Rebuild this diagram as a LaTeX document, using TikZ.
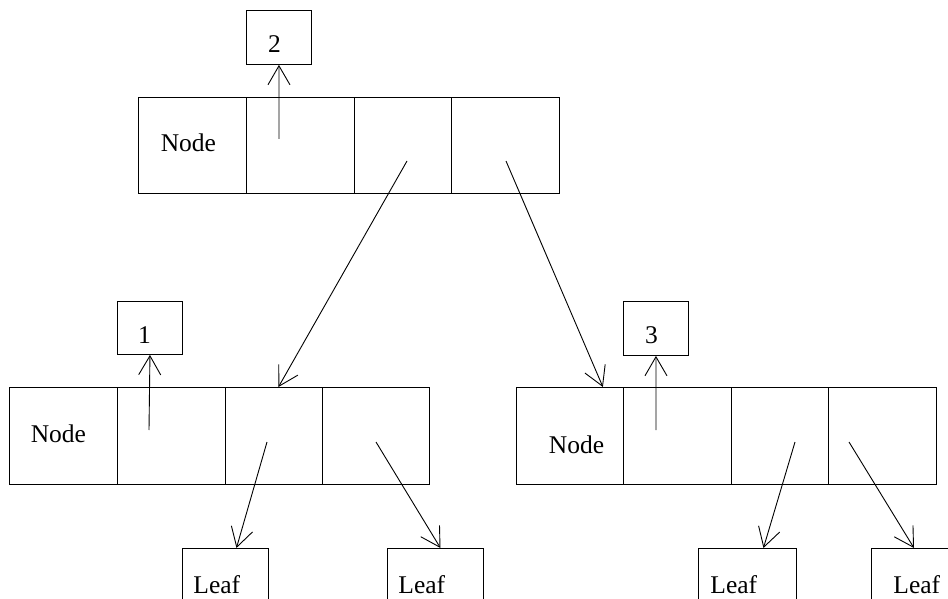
\documentclass[tikz,border=0pt]{standalone}
\usepackage{fontspec}
\setmainfont{Liberation Serif}
\usetikzlibrary{arrows.meta}
\begin{document}
\begin{tikzpicture}[x=1pt,y=-1pt,line width=0.9pt,
  every node/.style={font=\fontsize{25.5}{30}\selectfont},
  cell/.style={draw, anchor=north west, inner sep=0pt, minimum height=96pt, minimum width=#1},
  pbox/.style={draw, anchor=north west, inner sep=0pt, minimum width=65pt, minimum height=54pt},
  leafbox/.style={draw, anchor=north west, align=left, inner ysep=28pt, text height=17pt, text depth=40pt},
  conn/.style={-{Straight Barb[length=19pt,width=22pt]}}]
\useasboundingbox (0,0) rectangle (948,599);
\clip (0,0) rectangle (948,599);
% top node
\node[cell=108pt, label={[xshift=-4pt,yshift=3pt]center:Node}] (tA) at (138,97) {};
\node[cell=108pt] (tB) at (246,97) {};
\node[cell=97pt] (tC) at (354,97) {};
\node[cell=108pt] (tD) at (451,97) {};
\node[pbox, label={[xshift=-4.5pt,yshift=-7pt]center:2}] (b2) at (246,10) {};
% left node
\node[cell=108pt, minimum height=97pt, label={[xshift=-5pt,yshift=2.5pt]center:Node}] (lA) at (9,387) {};
\node[cell=108pt, minimum height=97pt] (lB) at (117,387) {};
\node[cell=97pt, minimum height=97pt] (lC) at (225,387) {};
\node[cell=107pt, minimum height=97pt] (lD) at (322,387) {};
\node[pbox, minimum height=53pt, label={[xshift=-5.5pt,yshift=-7.5pt]center:1}] (b1) at (117,301) {};
% right node
\node[cell=107pt, minimum height=97pt, label={[xshift=6.5pt,yshift=-8.5pt]center:Node}] (rA) at (516,387) {};
\node[cell=108pt, minimum height=97pt] (rB) at (623,387) {};
\node[cell=97pt, minimum height=97pt] (rC) at (731,387) {};
\node[cell=108pt, minimum height=97pt] (rD) at (828,387) {};
\node[pbox, label={[xshift=-4.5pt,yshift=-7pt]center:3}] (b3) at (623,301) {};
% leaves
\node[leafbox, inner xsep=11pt, text width=64pt] (leaf1) at (182,548) {Leaf};
\node[leafbox, inner xsep=11pt, text width=74pt] (leaf2) at (387,548) {Leaf};
\node[leafbox, inner xsep=12pt, text width=74pt] (leaf3) at (698,548) {Leaf};
\node[leafbox, inner xsep=22pt, text width=46pt] (leaf4) at (871,548) {Leaf};
% pointer start points
\coordinate (s2) at (279,139);
\coordinate (sTC) at (407,161);
\coordinate (sTD) at (506,161);
\coordinate (s1) at (149,430);
\coordinate (sLC) at (267,442);
\coordinate (sLD) at (376,442);
\coordinate (s3) at (656,430);
\coordinate (sRC) at (795,442);
\coordinate (sRD) at (849,442);
% connectors
\draw[conn] (s2) -- (b2.south);
\draw[conn] (sTC) -- ([xshift=4.5pt]lC.north);
\draw[conn] (sTD) -- ([xshift=-21pt]rA.north east);
\draw[conn] (s1) -- (b1.south);
\draw[conn] (sLC) -- ([xshift=11pt]leaf1.north);
\draw[conn] (sLD) -- ([xshift=5pt]leaf2.north);
\draw[conn] (s3) -- (b3.south);
\draw[conn] (sRC) -- ([xshift=16pt]leaf3.north);
\draw[conn] (sRD) -- ([xshift=43pt]leaf4.north west);
\end{tikzpicture}
\end{document}
